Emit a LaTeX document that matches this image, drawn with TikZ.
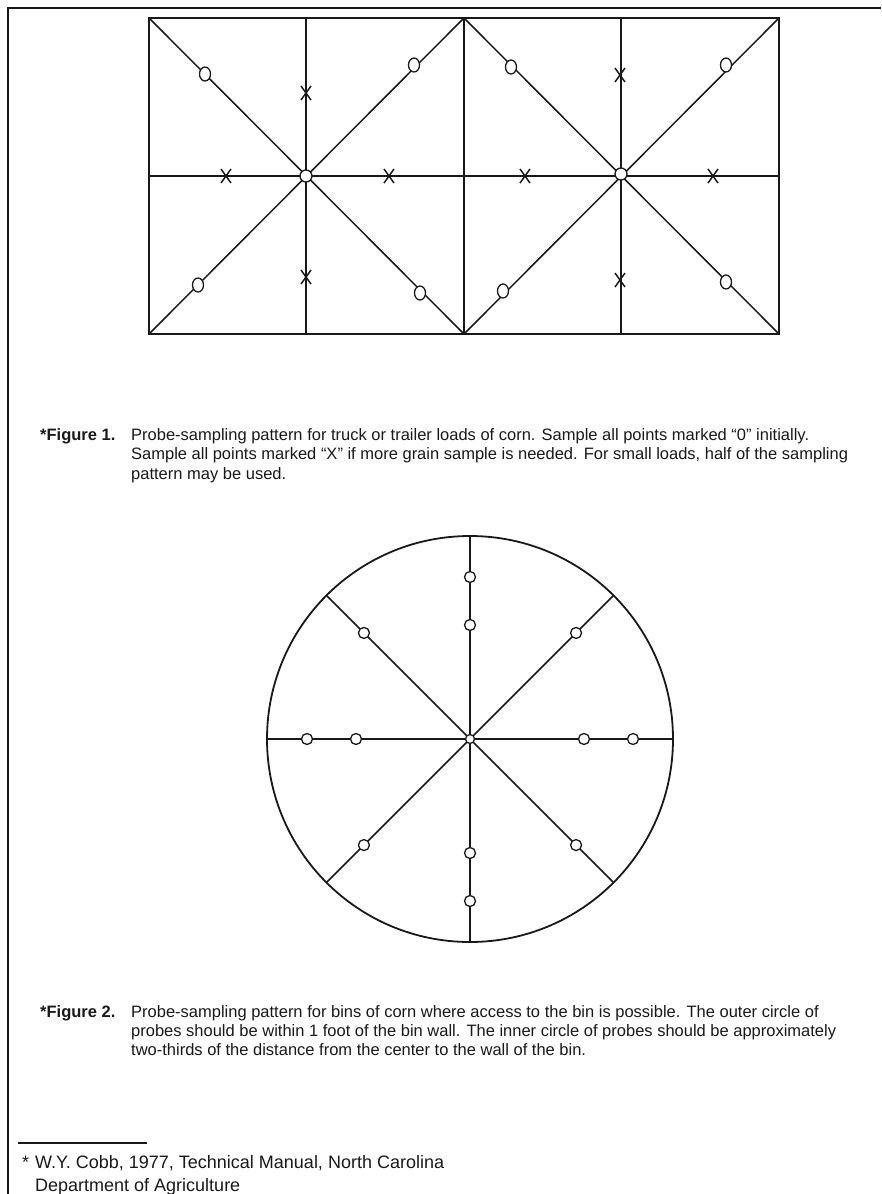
\documentclass[tikz,border=0pt]{standalone}
\usepackage{fontspec}
\setmainfont{Liberation Sans}
\usepackage{tikz}
\usetikzlibrary{positioning}
\colorlet{cInk}{black!90}

\newcommand{\probecross}[2]{\draw[line width=1.5pt, cInk] (#1,#2) ++(-5,-7) -- ++(10,14) ++(-10,0) -- ++(10,-14);}

\begin{document}
\begin{tikzpicture}[x=1pt, y=-1pt,
    frame/.style={line width=1.8pt, cInk},
    grid/.style={line width=1.5pt, cInk},
    probe/.style={line width=1.3pt, cInk, fill=white},
    captext/.style={font=\fontsize{16.5}{19}\selectfont, anchor=base west, inner sep=0pt, text=cInk},
    caplabel/.style={captext, font=\fontsize{16.5}{19}\selectfont\bfseries},
    notetext/.style={captext, font=\fontsize{18}{22}\selectfont}]
    \useasboundingbox (0,0) rectangle (881,1194);
    % Page border
    \draw[line width=1.5pt, cInk] (881,8) -- (8,8) -- (8,1194);
    % Truck pattern
    \draw[frame] (149,18) rectangle (779,334);
    \draw[grid] (306,18) -- (306,334); \draw[grid] (464,18) -- (464,334); \draw[grid] (621,18) -- (621,334);
    \draw[grid] (149,176) -- (779,176);
    \draw[grid] (149,18) -- (464,334); \draw[grid] (464,18) -- (149,334);
    \draw[grid] (464,18) -- (779,334); \draw[grid] (779,18) -- (464,334);
    \draw[probe] (205,74) ellipse (5.5 and 7); \draw[probe] (414,65) ellipse (5.5 and 7);
    \draw[probe] (198,285) ellipse (5.5 and 7); \draw[probe] (420,293) ellipse (5.5 and 7);
    \draw[probe] (511,67) ellipse (5.5 and 7); \draw[probe] (726,65) ellipse (5.5 and 7);
    \draw[probe] (503,291) ellipse (5.5 and 7); \draw[probe] (726,282) ellipse (5.5 and 7);
    \draw[probe] (306,176) circle (6); \draw[probe] (621,174) circle (6);
    \probecross{306}{93} \probecross{306}{277} \probecross{226}{176} \probecross{389}{176}
    \probecross{620}{75} \probecross{620}{280} \probecross{525}{176} \probecross{713}{176}
    % Caption of figure 1
    \node[caplabel] (fig1) at (40,440) {*Figure 1.};
    \node[captext] (cap1a) at (131,440) {Probe-sampling pattern for truck or trailer loads of corn. Sample all points marked ``0'' initially.};
    \node[captext] (cap1b) at (131,459) {Sample all points marked ``X'' if more grain sample is needed. For small loads, half of the sampling};
    \node[captext] (cap1c) at (131,479) {pattern may be used.};
    % Bin pattern
    \begin{scope}[shift={(470,739)}]
    \draw[frame] (0,0) circle (203);
    \draw[grid] (90:203) -- (270:203); \draw[grid] (0:203) -- (180:203);
    \draw[grid] (45:203) -- (225:203); \draw[grid] (135:203) -- (315:203);
    \draw[probe] (90:114) circle (5.5); \draw[probe] (90:162) circle (5.5);
    \draw[probe] (270:114) circle (5.5); \draw[probe] (270:162) circle (5.5);
    \draw[probe] (0:114) circle (5.5); \draw[probe] (0:163) circle (5.5);
    \draw[probe] (180:114) circle (5.5); \draw[probe] (180:163) circle (5.5);
    \draw[probe] (45:150) circle (5.5); \draw[probe] (135:150) circle (5.5);
    \draw[probe] (225:150) circle (5.5); \draw[probe] (315:150) circle (5.5);
    \draw[probe] (0,0) circle (4.5);
    \end{scope}
    % Caption of figure 2
    \node[caplabel] (fig2) at (40,1017) {*Figure 2.};
    \node[captext] (cap2a) at (131,1017) {Probe-sampling pattern for bins of corn where access to the bin is possible. The outer circle of};
    \node[captext] (cap2b) at (131,1036) {probes should be within 1 foot of the bin wall. The inner circle of probes should be approximately};
    \node[captext] (cap2c) at (131,1055) {two-thirds of the distance from the center to the wall of the bin.};
    % Footnote
    \draw[line width=1.3pt, cInk] (18,1143) -- (147,1143);
    \node[notetext] (star) at (22,1168) {*};
    \node[notetext] (note1) at (35,1168) {W.Y. Cobb, 1977, Technical Manual, North Carolina};
    \node[notetext] (note2) at (35,1191) {Department of Agriculture};
\end{tikzpicture}
\end{document}
